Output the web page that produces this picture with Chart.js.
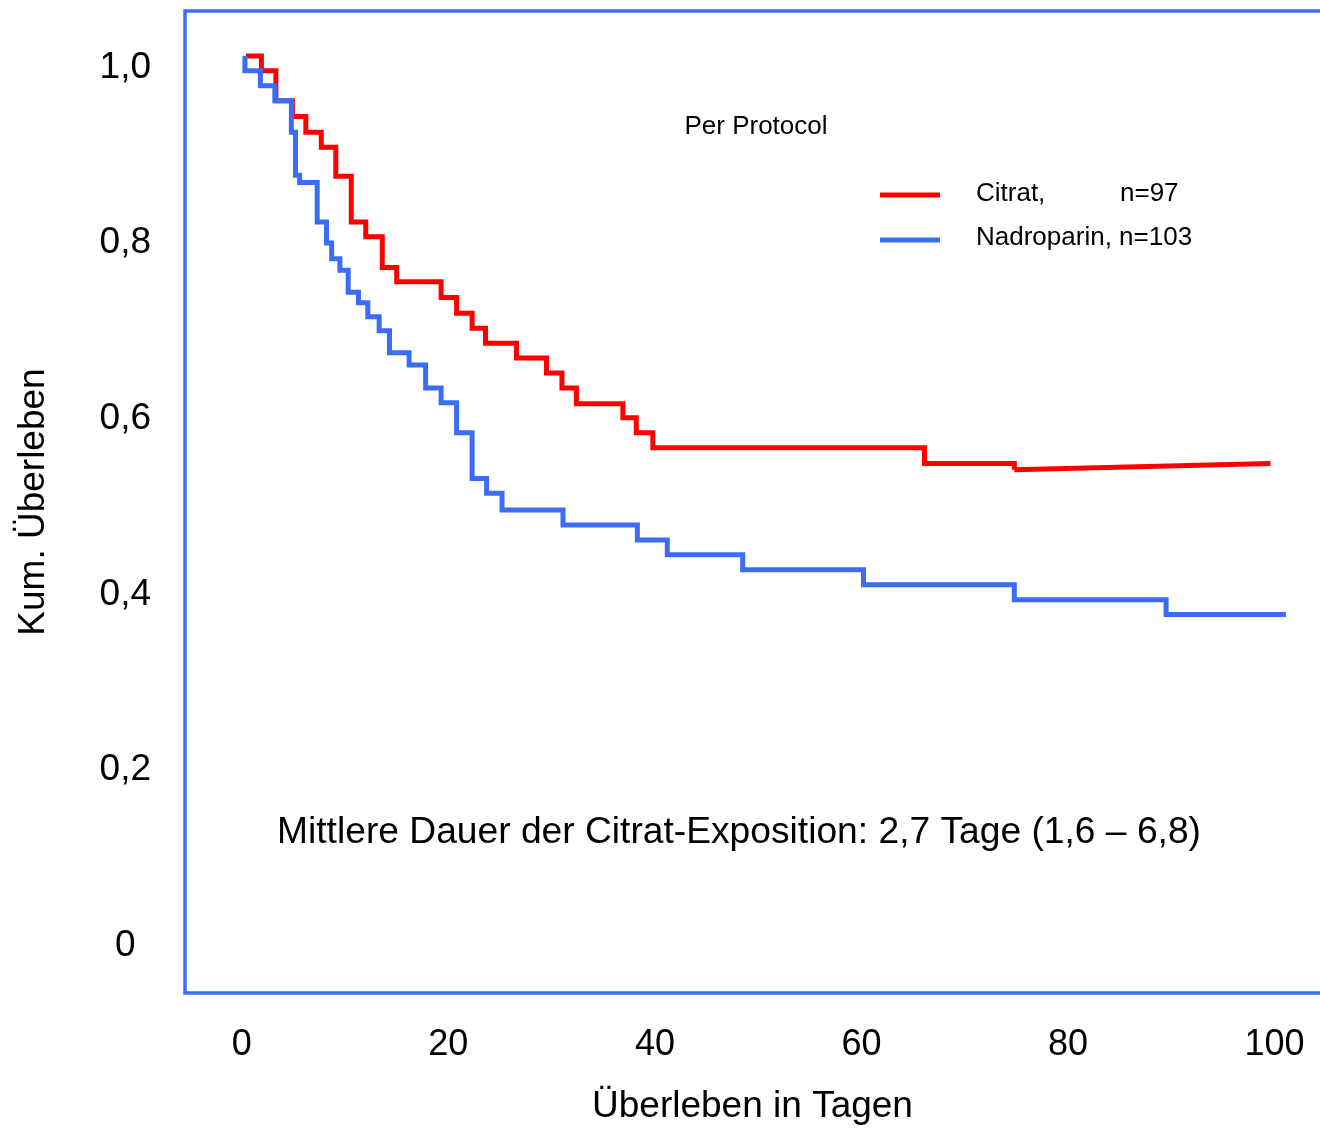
<!DOCTYPE html>
<html>
<head>
<meta charset="utf-8">
<title>Kum. Überleben</title>
<script src="https://cdn.jsdelivr.net/npm/chart.js@4.4.1/dist/chart.umd.min.js"></script>
<style>
  html, body { margin: 0; padding: 0; background: #fff; }
  #km { display: block; }
</style>
</head>
<body>
<canvas id="km" width="1320" height="1128"></canvas>
<script>
// Kaplan-Meier steps (day, cumulative survival)
var citratDays = [0.4, 1.9, 3.3, 4.9, 6.2, 7.7, 9.1, 10.6, 12.0, 13.6, 15.0, 19.3, 20.8, 22.3, 23.6, 26.6, 29.5, 31.0, 32.4, 36.9, 38.2, 39.8, 66.1, 74.8];
var citratSurv = [1.013, 0.996, 0.962, 0.944, 0.926, 0.909, 0.876, 0.824, 0.807, 0.772, 0.756, 0.738, 0.720, 0.703, 0.686, 0.669, 0.652, 0.635, 0.617, 0.601, 0.584, 0.567, 0.549, 0.542];
// last citrat piece is drawn as a sloped line in the original
var citratTailDays = [74.8, 99.6];
var citratTailSurv = [0.542, 0.549];

var nadroDays = [0.3, 0.3, 1.8, 3.2, 4.8, 5.2, 5.6, 7.3, 8.2, 8.7, 9.5, 10.3, 11.3, 12.2, 13.3, 14.3, 16.2, 17.8, 19.3, 20.8, 22.3, 23.7, 25.2, 31.1, 38.3, 41.2, 48.5, 60.2, 74.8, 89.5, 101.1];
var nadroSurv = [1.013, 0.996, 0.979, 0.962, 0.926, 0.877, 0.869, 0.824, 0.800, 0.782, 0.769, 0.744, 0.732, 0.716, 0.700, 0.675, 0.661, 0.635, 0.618, 0.584, 0.532, 0.515, 0.496, 0.479, 0.462, 0.445, 0.428, 0.411, 0.394, 0.377, 0.377];

var xTicks = [0, 20, 40, 60, 80, 100];
var yTicks = [0, 0.2, 0.4, 0.6, 0.8, 1.0];
var yTickLabels = ['0', '0,2', '0,4', '0,6', '0,8', '1,0'];

var RED = '#ff0000';
var BLUE = '#3b6cf5';
var FONT = "'Liberation Sans', Arial, Helvetica, sans-serif";

function toPoints(xs, ys) {
    return xs.map(function(x, i) { return {x: x, y: ys[i]}; });
}

var frame = {
    id: 'frame',
    afterDraw: function(chart) {
        var ctx = chart.ctx, a = chart.chartArea;
        ctx.save();
        ctx.strokeStyle = BLUE;
        ctx.lineWidth = 3.5;
        ctx.beginPath();
        ctx.moveTo(chart.width + 5, a.top);
        ctx.lineTo(a.left, a.top);
        ctx.lineTo(a.left, a.bottom);
        ctx.lineTo(chart.width + 5, a.bottom);
        ctx.stroke();
        ctx.restore();
    }
};

var notes = {
    id: 'notes',
    afterDraw: function(chart) {
        var ctx = chart.ctx;
        ctx.save();
        ctx.fillStyle = '#000';
        ctx.textBaseline = 'middle';

        ctx.font = '26px ' + FONT;
        ctx.textAlign = 'center';
        ctx.fillText('Per Protocol', 756, 127);

        // legend
        ctx.lineWidth = 5;
        ctx.strokeStyle = RED;
        ctx.beginPath(); ctx.moveTo(880, 195); ctx.lineTo(940, 195); ctx.stroke();
        ctx.strokeStyle = BLUE;
        ctx.beginPath(); ctx.moveTo(880, 240); ctx.lineTo(940, 240); ctx.stroke();
        ctx.textAlign = 'left';
        ctx.fillText('Citrat,', 976, 194);
        ctx.fillText('n=97', 1120, 194);
        ctx.fillText('Nadroparin, n=103', 976, 238);

        ctx.font = '37.2px ' + FONT;
        ctx.textAlign = 'center';
        ctx.fillText('Mittlere Dauer der Citrat-Exposition: 2,7 Tage (1,6 \u2013 6,8)', 739, 833);
        ctx.restore();
    }
};

new Chart(document.getElementById('km'), {
    type: 'line',
    data: {
        datasets: [
            {
                label: 'Nadroparin, n=103',
                data: toPoints(nadroDays, nadroSurv),
                borderColor: BLUE,
                borderWidth: 5,
                stepped: true,
                pointRadius: 0,
                fill: false,
                order: 1
            },
            {
                label: 'Citrat, n=97',
                data: toPoints(citratDays, citratSurv),
                borderColor: RED,
                borderWidth: 5,
                stepped: true,
                pointRadius: 0,
                fill: false,
                order: 2
            },
            {
                label: 'Citrat tail',
                data: toPoints(citratTailDays, citratTailSurv),
                borderColor: RED,
                borderWidth: 5,
                pointRadius: 0,
                fill: false,
                order: 2
            }
        ]
    },
    options: {
        responsive: false,
        animation: false,
        layout: { padding: { top: 11, left: 0, right: 0, bottom: 0 } },
        plugins: {
            legend: { display: false },
            tooltip: { enabled: false },
            title: { display: false }
        },
        scales: {
            x: {
                type: 'linear',
                min: -5.5,
                max: 104.4,
                grid: { display: false, drawTicks: false },
                border: { display: false },
                afterBuildTicks: function(scale) {
                    scale.ticks = xTicks.map(function(v) { return {value: v}; });
                },
                afterFit: function(scale) {
                    scale.height = 135;
                    scale.paddingLeft = 0;
                    scale.paddingRight = 0;
                },
                ticks: {
                    padding: 30,
                    color: '#000',
                    font: { size: 36, family: FONT },
                    maxRotation: 0,
                    callback: function(v) { return String(v); }
                },
                title: {
                    display: true,
                    text: 'Überleben in Tagen',
                    color: '#000',
                    font: { size: 37, family: FONT, lineHeight: 1.1 },
                    padding: { top: 0, bottom: 1 }
                }
            },
            y: {
                type: 'linear',
                min: -0.0538,
                max: 1.0641,
                grid: { display: false, drawTicks: false },
                border: { display: false },
                afterBuildTicks: function(scale) {
                    scale.ticks = yTicks.map(function(v) { return {value: v}; });
                },
                afterFit: function(scale) {
                    scale.width = 185;
                    scale.paddingTop = 0;
                    scale.paddingBottom = 0;
                },
                ticks: {
                    padding: 34,
                    crossAlign: 'center',
                    color: '#000',
                    font: { size: 37, family: FONT },
                    callback: function(v) {
                        var i = yTicks.indexOf(v);
                        return i >= 0 ? yTickLabels[i] : '';
                    }
                },
                title: {
                    display: true,
                    text: 'Kum. Überleben',
                    color: '#000',
                    font: { size: 37, family: FONT },
                    padding: { top: 12, bottom: 0 }
                }
            }
        }
    },
    plugins: [frame, notes]
});
</script>
</body>
</html>
